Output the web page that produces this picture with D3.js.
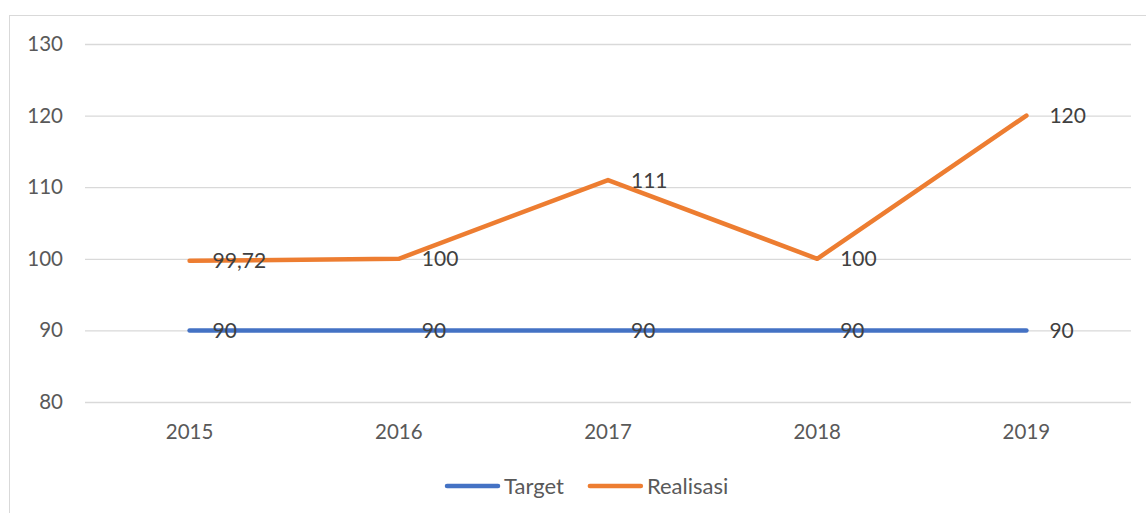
<!DOCTYPE html>
<html>
<head>
<meta charset="utf-8">
<script src="https://cdn.jsdelivr.net/npm/d3@7"></script>
<style>
  body { margin: 0; background: #fff; }
  svg { font-family: Lato, "Liberation Sans", sans-serif; }
</style>
</head>
<body>
<svg id="chart"></svg>
<script>
var width = 1146, height = 513;

var years = ["2015", "2016", "2017", "2018", "2019"];
var target = [90, 90, 90, 90, 90];
var realisasi = [99.72, 100, 111, 100, 120];
var yTicks = [80, 90, 100, 110, 120, 130];
var seriesNames = ["Target", "Realisasi"];
var seriesColors = ["#4472C4", "#ED7D31"];

var svg = d3.select("#chart")
    .attr("width", width)
    .attr("height", height);

// outer border of the chart area
svg.append("rect")
    .attr("x", 9.5)
    .attr("y", 15.5)
    .attr("width", 1200)
    .attr("height", 600)
    .attr("fill", "none")
    .attr("stroke", "#d9d9d9");

// scales
var xScale = d3.scaleBand()
    .domain(years)
    .range([85, 1131]);

var yScale = d3.scaleLinear()
    .domain([80, 130])
    .range([402, 44]);

var xMid = d => xScale(d) + xScale.bandwidth() / 2;

// gridlines + y labels
var yAxis = svg.append("g")
    .attr("transform", "translate(85, 0)")
    .call(
      d3.axisLeft(yScale)
        .tickValues(yTicks)
        .tickSize(-(1131 - 85))
        .tickPadding(22)
        .tickFormat(d3.format("d"))
    );

yAxis.select(".domain").remove();
yAxis.selectAll(".tick line")
    .attr("stroke", "#d9d9d9")
    .attr("stroke-width", 1.3);
yAxis.selectAll(".tick text")
    .attr("fill", "#595959")
    .style("font-size", "20.5px")
    .style("font-family", "Lato, sans-serif");

// x labels
var xAxis = svg.append("g")
    .attr("transform", "translate(0, 402)")
    .call(d3.axisBottom(xScale).tickSize(0).tickPadding(22));

xAxis.select(".domain").remove();
xAxis.selectAll(".tick text")
    .attr("fill", "#595959")
    .style("font-size", "20.5px")
    .style("font-family", "Lato, sans-serif");

// lines
var line = d3.line()
    .x(d => xMid(d.year))
    .y(d => yScale(d.value));

var series = [target, realisasi].map((vals, i) => ({
  name: seriesNames[i],
  color: seriesColors[i],
  points: vals.map((v, j) => ({ year: years[j], value: v }))
}));

svg.selectAll(".series")
  .data(series)
  .enter()
  .append("path")
    .classed("series", true)
    .attr("d", d => line(d.points))
    .attr("fill", "none")
    .attr("stroke", d => d.color)
    .attr("stroke-width", 4.5)
    .attr("stroke-linecap", "round")
    .attr("stroke-linejoin", "round");

// data labels
var labelFormat = v => Number.isInteger(v) ? String(v) : String(v).replace(".", ",");

series.forEach(s => {
  svg.append("g")
    .selectAll("text")
    .data(s.points)
    .enter()
    .append("text")
      .attr("x", d => xMid(d.year) + 23)
      .attr("y", d => yScale(d.value))
      .attr("dy", "0.36em")
      .attr("fill", "#404040")
      .style("font-size", "21px")
      .text(d => labelFormat(d.value));
});

// legend
var legend = svg.append("g")
    .attr("transform", "translate(445, 486)");

var lx = 0;
series.forEach(s => {
  legend.append("line")
      .attr("x1", lx + 2)
      .attr("x2", lx + 53)
      .attr("stroke", s.color)
      .attr("stroke-width", 4.5)
      .attr("stroke-linecap", "round");
  var t = legend.append("text")
      .attr("x", lx + 59)
      .attr("dy", "0.36em")
      .attr("fill", "#595959")
      .style("font-size", "22px")
      .text(s.name);
  lx += 59 + t.node().getComputedTextLength() + 24;
});
</script>
</body>
</html>
